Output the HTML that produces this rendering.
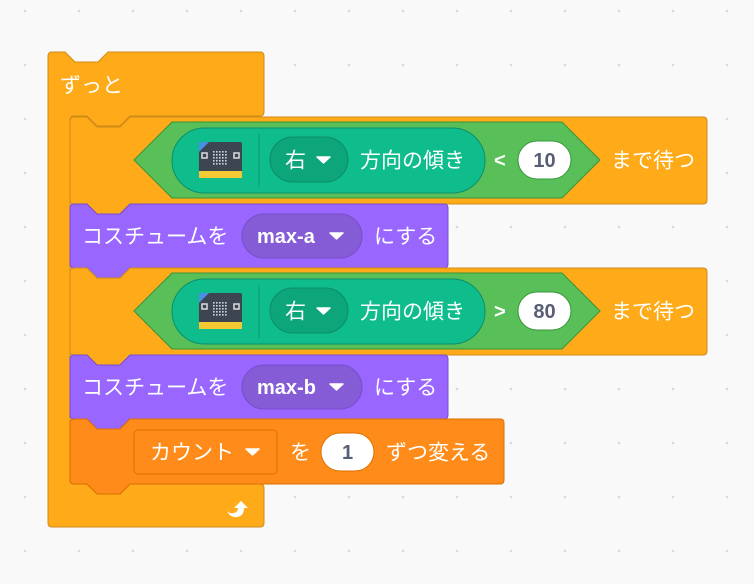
<!DOCTYPE html>
<html><head><meta charset="utf-8"><style>
html,body{margin:0;padding:0;background:#f9f9f9;}
svg{display:block;}
text{font-family:"Liberation Sans","Noto Sans CJK JP",sans-serif;font-size:21px;fill:#fff;dominant-baseline:central;}
.b{font-weight:bold;font-size:20px;}
.d{fill:#575e75;font-weight:bold;font-size:20px;}
</style></head><body>
<svg width="754" height="584" viewBox="0 0 754 584" xmlns="http://www.w3.org/2000/svg">
<defs>
<pattern id="dots" x="25" y="11" width="54" height="54" patternUnits="userSpaceOnUse">
<circle cx="0" cy="0" r="1.3" fill="#d9d9d9"/><circle cx="54" cy="0" r="1.3" fill="#d9d9d9"/><circle cx="0" cy="54" r="1.3" fill="#d9d9d9"/><circle cx="54" cy="54" r="1.3" fill="#d9d9d9"/>
</pattern>
<pattern id="grid" x="14" y="9" width="3" height="3" patternUnits="userSpaceOnUse"><rect width="1.6" height="1.6" fill="#cfd3da"/></pattern>
<g id="mb">
<rect x="0" y="0" width="43" height="36" rx="2" fill="#3d4452"/>
<path d="M0,2 Q0,0 2,0 L10,0 L0,10 Z" fill="#4a8ee6"/>
<rect x="0" y="29" width="43" height="7" fill="#f3c934"/>
<rect x="3" y="11" width="5" height="5" fill="none" stroke="#ddd" stroke-width="1.5"/>
<rect x="35" y="11" width="5" height="5" fill="none" stroke="#ddd" stroke-width="1.5"/>
<rect x="14" y="9" width="15" height="15" fill="url(#grid)"/>
</g>
</defs>
<rect width="754" height="584" fill="url(#dots)"/>

<path d="M48,56 Q48,52 52,52 L65,52 L75,62 L98,62 L108,52 L260,52 Q264,52 264,56 L264,112 Q264,116 260,116 L130,116 L120,126 L97,126 L87,116 L74,116 Q70,116 70,120 L70,480 Q70,484 74,484 L87,484 L97,494 L120,494 L130,484 L260,484 Q264,484 264,488 L264,523 Q264,527 260,527 L52,527 Q48,527 48,523 Z" fill="#ffab19" stroke="#cf8b17" stroke-width="1"/>
<text x="60" y="86">ずっと</text>
<path d="M227,511 q3,7 10,6 q7,-1 7,-9 l4,0 l-7,-7 l-7,7 l4,0 q0,4 -4,5 q-4,1 -7,-2 z" fill="#fff"/>

<path d="M70,121 Q70,117 74,117 L87,117 L97,127 L120,127 L130,117 L703,117 Q707,117 707,121 L707,200 Q707,204 703,204 L130,204 L120,214 L97,214 L87,204 L74,204 Q70,204 70,200 Z" fill="#ffab19" stroke="#cf8b17"/>
<path d="M134,160 L172,122 L562,122 L600,160 L562,198 L172,198 Z" fill="#59c059" stroke="#389438"/>
<rect x="172" y="128" width="313" height="65" rx="32.5" fill="#0fbd8c" stroke="#0b8e69"/>
<use href="#mb" x="199" y="142"/>
<line x1="259" y1="134" x2="259" y2="187" stroke="#0b9a70" stroke-width="1"/>
<rect x="270" y="137" width="78" height="45" rx="22.5" fill="#0da57a" stroke="#0b8e69"/>
<text x="285" y="161">右</text><path d="M317,157 l13,0 l-6.5,6 z" fill="#fff" stroke="#fff" stroke-linejoin="round" stroke-width="1.5"/>
<text x="360" y="161">方向の傾き</text>
<text x="494" y="161" class="b">&lt;</text>
<rect x="518" y="141" width="53" height="38" rx="19" fill="#fff" stroke="#389438"/>
<text x="544.5" y="161" class="d" text-anchor="middle">10</text>
<text x="611" y="161">まで待つ</text>

<path d="M70,208 Q70,204 74,204 L87,204 L97,214 L120,214 L130,204 L444,204 Q448,204 448,208 L448,264 Q448,268 444,268 L130,268 L120,278 L97,278 L87,268 L74,268 Q70,268 70,264 Z" fill="#9966ff" stroke="#774dcb"/>
<text x="82" y="237">コスチュームを</text>
<rect x="242" y="214" width="120" height="44" rx="22" fill="#855cd6" stroke="#774dcb"/>
<text x="257" y="237" class="b">max-a</text><path d="M330,233 l13,0 l-6.5,6 z" fill="#fff" stroke="#fff" stroke-linejoin="round" stroke-width="1.5"/>
<text x="374" y="237">にする</text>

<path d="M70,272 Q70,268 74,268 L87,268 L97,278 L120,278 L130,268 L703,268 Q707,268 707,272 L707,351 Q707,355 703,355 L130,355 L120,365 L97,365 L87,355 L74,355 Q70,355 70,351 Z" fill="#ffab19" stroke="#cf8b17"/>
<path d="M134,311 L172,273 L562,273 L600,311 L562,349 L172,349 Z" fill="#59c059" stroke="#389438"/>
<rect x="172" y="279" width="313" height="65" rx="32.5" fill="#0fbd8c" stroke="#0b8e69"/>
<use href="#mb" x="199" y="293"/>
<line x1="259" y1="285" x2="259" y2="338" stroke="#0b9a70" stroke-width="1"/>
<rect x="270" y="288" width="78" height="45" rx="22.5" fill="#0da57a" stroke="#0b8e69"/>
<text x="285" y="312">右</text><path d="M317,308 l13,0 l-6.5,6 z" fill="#fff" stroke="#fff" stroke-linejoin="round" stroke-width="1.5"/>
<text x="360" y="312">方向の傾き</text>
<text x="494" y="312" class="b">&gt;</text>
<rect x="518" y="292" width="53" height="38" rx="19" fill="#fff" stroke="#389438"/>
<text x="544.5" y="312" class="d" text-anchor="middle">80</text>
<text x="611" y="312">まで待つ</text>

<path d="M70,359 Q70,355 74,355 L87,355 L97,365 L120,365 L130,355 L444,355 Q448,355 448,359 L448,415 Q448,419 444,419 L130,419 L120,429 L97,429 L87,419 L74,419 Q70,419 70,415 Z" fill="#9966ff" stroke="#774dcb"/>
<text x="82" y="388">コスチュームを</text>
<rect x="242" y="365" width="120" height="44" rx="22" fill="#855cd6" stroke="#774dcb"/>
<text x="257" y="388" class="b">max-b</text><path d="M330,384 l13,0 l-6.5,6 z" fill="#fff" stroke="#fff" stroke-linejoin="round" stroke-width="1.5"/>
<text x="374" y="388">にする</text>

<path d="M70,423 Q70,419 74,419 L87,419 L97,429 L120,429 L130,419 L500,419 Q504,419 504,423 L504,480 Q504,484 500,484 L130,484 L120,494 L97,494 L87,484 L74,484 Q70,484 70,480 Z" fill="#ff8c1a" stroke="#db6e00"/>
<rect x="134" y="430" width="143" height="44" rx="4" fill="#ff8c1a" stroke="#db6e00"/>
<text x="150" y="453">カウント</text><path d="M246,449 l13,0 l-6.5,6 z" fill="#fff" stroke="#fff" stroke-linejoin="round" stroke-width="1.5"/>
<text x="290" y="453">を</text>
<rect x="321" y="433" width="53" height="38" rx="19" fill="#fff" stroke="#db6e00"/>
<text x="347.5" y="453" class="d" text-anchor="middle">1</text>
<text x="386" y="453">ずつ変える</text>
</svg>
</body></html>
